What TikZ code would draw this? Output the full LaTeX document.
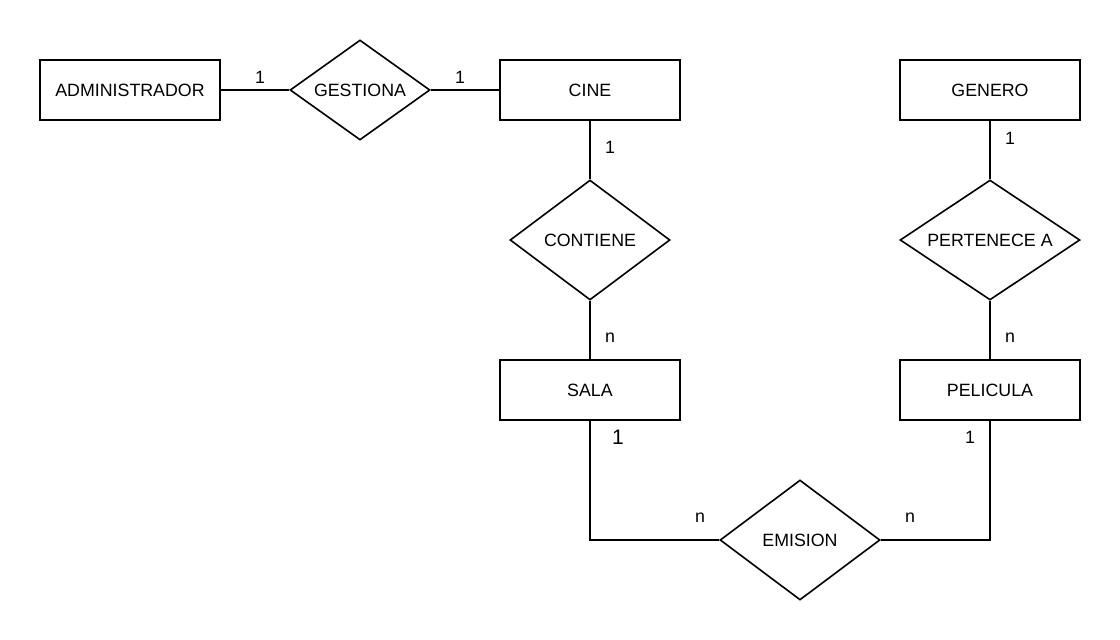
\documentclass[tikz,border=0pt]{standalone}
\usepackage{fontspec}
\setmainfont{Liberation Sans}
\usetikzlibrary{shapes.geometric}
\begin{document}
\begin{tikzpicture}[x=1pt,y=-1pt,
  every node/.style={font=\fontsize{17.8}{21}\selectfont},
  entity/.style={draw,line width=1.8pt,minimum width=180pt,minimum height=60pt,inner sep=0pt},
  relation/.style={draw,line width=1.6pt,diamond,inner sep=0pt},
  conn/.style={line width=1.8pt},
  card/.style={inner sep=0pt}]
\useasboundingbox (0,0) rectangle (1120,640);
\node[entity] (admin) at (130,90) {ADMINISTRADOR};
\node[entity] (cine) at (590,90) {CINE};
\node[entity] (genero) at (990,90) {GENERO};
\node[entity] (sala) at (590,390) {SALA};
\node[entity] (pelicula) at (990,390) {PELICULA};
\node[relation,minimum width=140pt,minimum height=100pt,label={center:GESTIONA}] (gestiona) at (360,90) {};
\node[relation,minimum width=160pt,minimum height=120pt,label={center:CONTIENE}] (contiene) at (590,240) {};
\node[relation,minimum width=180pt,minimum height=120pt,label={center:PERTENECE A}] (pertenece) at (990,240) {};
\node[relation,minimum width=160pt,minimum height=120pt,label={center:EMISION}] (emision) at (800,540) {};
\coordinate (c1) at (590,540);
\coordinate (c2) at (990,540);
\draw[conn] (admin.east) -- (gestiona.west);
\draw[conn] (gestiona.east) -- (cine.west);
\draw[conn] (cine.south) -- (contiene.north);
\draw[conn] (contiene.south) -- (sala.north);
\draw[conn] (genero.south) -- (pertenece.north);
\draw[conn] (pertenece.south) -- (pelicula.north);
\draw[conn] (sala.south) -- (c1) -- (emision.west);
\draw[conn] (pelicula.south) -- (c2) -- (emision.east);
\node[card] (l1) at (260,77) {1};
\node[card] (l2) at (460,77) {1};
\node[card] (l3) at (610,147) {1};
\node[card] (l4) at (610,338) {n};
\node[card] (l5) at (1010,138) {1};
\node[card] (l6) at (1010,338) {n};
\node[card,font=\fontsize{21}{24}\selectfont] (l7) at (618,437) {1};
\node[card] (l8) at (970,437) {1};
\node[card] (l9) at (700,518) {n};
\node[card] (l10) at (910,518) {n};
\end{tikzpicture}
\end{document}
